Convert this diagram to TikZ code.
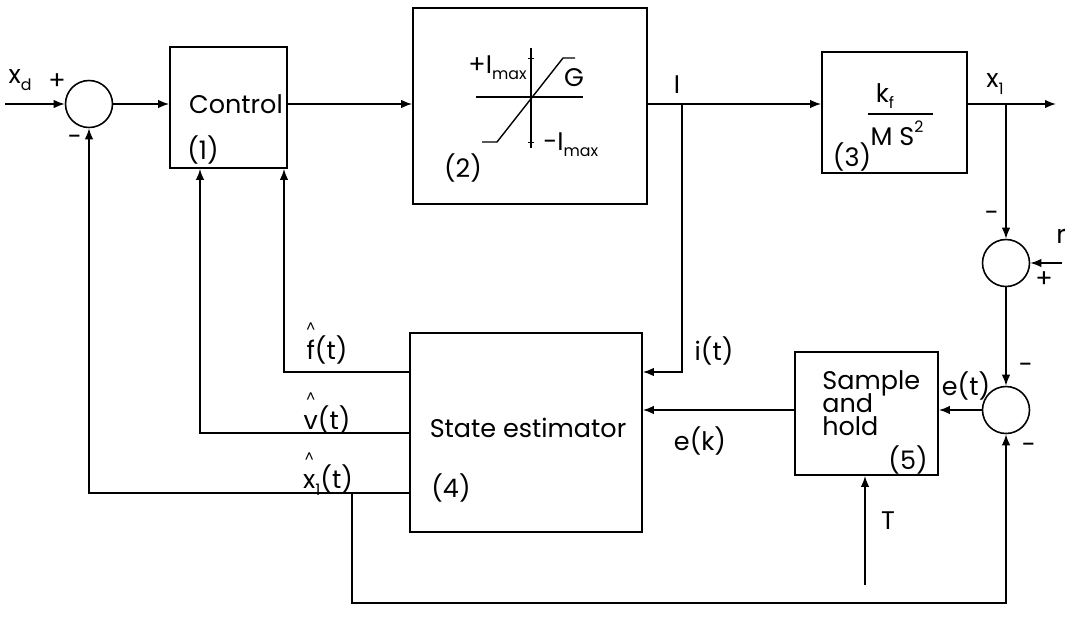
\documentclass[tikz,border=0pt]{standalone}
\usepackage{fontspec}
\setmainfont{Poppins}
\usetikzlibrary{arrows.meta}
\newcommand{\lo}[1]{\raisebox{-0.45ex}{\fontsize{9}{10}\selectfont #1}}
\newcommand{\hi}[1]{\raisebox{0.9ex}{\fontsize{9}{10}\selectfont #1}}
\newcommand{\hatt}[1]{\ooalign{#1\cr\hidewidth\raisebox{1.05em}{\fontsize{8}{8}\selectfont\textasciicircum}\hidewidth\cr}}

\begin{document}
\begin{tikzpicture}[
    x=0.02cm,
    y=-0.02cm,
    >={Latex[length=2.2mm,width=1.7mm]},
    block/.style={
        draw,
        line width=1pt,
        inner sep=0pt
    },
    sum/.style={
        draw,
        circle,
        line width=0.9pt,
        minimum size=0.94cm,
        inner sep=0pt
    },
    arrow/.style={
        ->,
        line width=0.9pt
    },
    wire/.style={
        line width=0.9pt
    },
    lbl/.style={
        font=\fontsize{14.5}{17}\selectfont,
        inner sep=0pt
    }
]
    \useasboundingbox (0,0) rectangle (1071,616);

    % Bloky
    \node[block, minimum width=2.34cm, minimum height=2.42cm] (ctrl) at (228.5,107.5) {};
    \node[block, minimum width=4.68cm, minimum height=3.92cm] (sat) at (530,106) {};
    \node[block, minimum width=2.90cm, minimum height=2.42cm] (plant) at (894.5,112.5) {};
    \node[block, minimum width=4.64cm, minimum height=3.98cm] (est) at (526,432.5) {};
    \node[block, minimum width=2.86cm, minimum height=2.46cm] (sh) at (866.5,413.5) {};

    % Sumatory
    \node[sum] (s1) at (89,104) {};
    \node[sum] (s2) at (1006,263) {};
    \node[sum] (s3) at (1006,410) {};

    % Volne konce
    \coordinate (xd) at (5,104);
    \coordinate (bI) at (682,104);
    \coordinate (bx) at (1006,104);
    \coordinate (xout) at (1056,104);
    \coordinate (rin) at (1062,263);
    \coordinate (tin) at (865,585);
    \coordinate (bxh) at (352,493);
    \coordinate (bot) at (352,603);

    % Hlavni vetev
    \draw[arrow] (xd) -- (s1);
    \draw[arrow] (s1) -- (s1 -| ctrl.west);
    \draw[arrow] (ctrl.east |- s1) -- (sat.west |- s1);
    \draw[arrow] (sat.east |- s1) -- (plant.west |- s1);
    \draw[arrow] (plant.east |- s1) -- (xout);
    \draw[arrow] (bx) -- (s2);
    \draw[arrow] (rin) -- (s2);
    \draw[arrow] (s2) -- (s3);
    \draw[arrow] (s3) -- (s3 -| sh.east);
    \draw[arrow] (sh.west |- s3) -- (est.east |- s3);
    \draw[arrow] (tin) -- (tin |- sh.south);
    \draw[arrow] (bI) |- (est.east |- 0,372);

    % Zpetne vazby
    \draw[arrow] (est.west |- 0,372) -| (ctrl.south -| 284,0);
    \draw[arrow] (est.west |- 0,433) -| (ctrl.south -| 200,0);
    \draw[arrow] (est.west |- bxh) -| (s1);
    \draw[arrow] (bxh) -- (bot) -| (s3);

    % Saturace
    \draw[line width=0.8pt] (476,97) -- (583,97);
    \draw[line width=0.8pt] (531,48) -- (531,148);
    \draw[line width=0.5pt] (528,58) -- (534,58) (528,142) -- (534,142);
    \draw[line width=0.8pt] (482,142) -- (497,142) -- (563,58) -- (575,58);

    % Zlomek
    \draw[line width=0.6pt] (868,114) -- (933,114);

    % Popisky
    \node[lbl] (lxd) at (20,80) {x\lo{d}};
    \node[lbl] (lctrl) at (236,104) {Control};
    \node[lbl] (n1) at (203,150) {(1)};
    \node[lbl, anchor=east] (limax) at (527,68) {+I\lo{max}};
    \node[lbl] (lG) at (574,78) {G};
    \node[lbl, anchor=west] (lmin) at (543,145) {-I\lo{max}};
    \node[lbl] (n2) at (463,168) {(2)};
    \node[lbl] (lI) at (677,85) {I};
    \node[lbl] (lkf) at (885,96) {k\lo{f}};
    \node[lbl] (lms) at (897,133) {M S\hi{2}};
    \node[lbl] (n3) at (852,157) {(3)};
    \node[lbl] (lx1) at (995,84) {x\lo{1}};
    \node[lbl] (lr) at (1061,236) {r};
    \node[lbl] (let) at (966,386) {e(t)};
    \node[lbl, anchor=west, align=left] (lsh) at (822,403) {Sample\\[-4pt]and\\[-4pt]hold};
    \node[lbl] (n5) at (908,460) {(5)};
    \node[lbl] (lT) at (888,521) {T};
    \node[lbl] (lek) at (700,441) {e(k)};
    \node[lbl] (lit) at (714,351) {i(t)};
    \node[lbl] (lest) at (528,428) {State estimator};
    \node[lbl] (n4) at (451,488) {(4)};
    \node[lbl] (lf) at (327,350) {\hatt{f}(t)};
    \node[lbl] (lv) at (327,420) {\hatt{v}(t)};
    \node[lbl] (lx) at (328,480) {\hatt{x}\lo{1}(t)};

    % Znamenka
    \foreach \name/\pos/\sign in {
        p1/{57,82}/+, m1/{75,140}/-, m2/{992,216}/-, p2/{1044,280}/+,
        m3/{1026,368}/-, m4/{1029,448}/-
    }{
        \node[lbl] (\name) at (\pos) {\sign};
    }

\end{tikzpicture}
\end{document}
